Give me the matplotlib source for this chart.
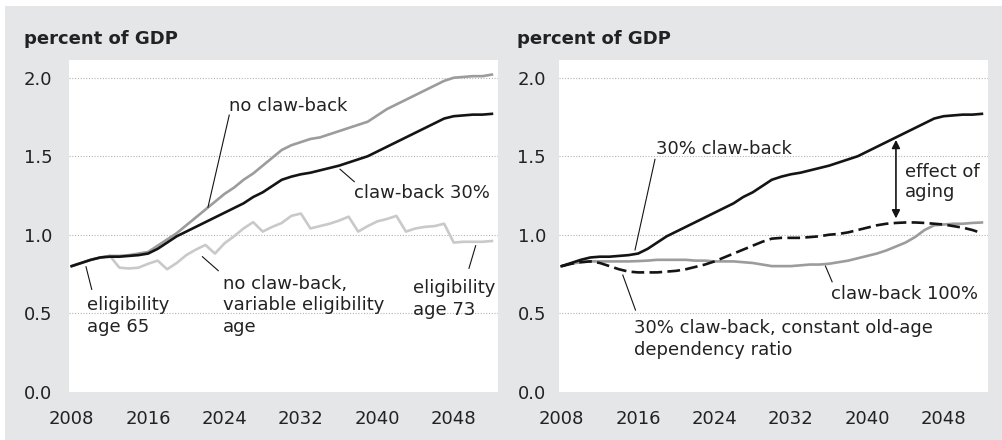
import matplotlib
matplotlib.use("Agg")
import matplotlib.pyplot as plt
from matplotlib.patches import Rectangle

# ---- data (percent of GDP) ----
years = list(range(2008, 2053))

no_clawback = [0.80, 0.82, 0.84, 0.855, 0.865, 0.865, 0.87, 0.88, 0.89, 0.93,
               0.97, 1.01, 1.06, 1.11, 1.16, 1.21, 1.26, 1.30, 1.35, 1.39,
               1.44, 1.49, 1.54, 1.57, 1.59, 1.61, 1.62, 1.64, 1.66, 1.68,
               1.70, 1.72, 1.76, 1.80, 1.83, 1.86, 1.89, 1.92, 1.95, 1.98,
               2.00, 2.005, 2.01, 2.01, 2.02]

clawback_30 = [0.80, 0.82, 0.84, 0.855, 0.86, 0.86, 0.865, 0.87, 0.88, 0.91,
               0.95, 0.99, 1.02, 1.05, 1.08, 1.11, 1.14, 1.17, 1.20, 1.24,
               1.27, 1.31, 1.35, 1.37, 1.385, 1.395, 1.41, 1.425, 1.44, 1.46,
               1.48, 1.50, 1.53, 1.56, 1.59, 1.62, 1.65, 1.68, 1.71, 1.74,
               1.755, 1.76, 1.765, 1.765, 1.77]

variable_age = [0.80, 0.82, 0.84, 0.855, 0.865, 0.79, 0.785, 0.79, 0.815, 0.835,
                0.78, 0.82, 0.87, 0.905, 0.935, 0.88, 0.945, 0.99, 1.04, 1.08,
                1.02, 1.05, 1.075, 1.12, 1.135, 1.04, 1.055, 1.07, 1.09, 1.115,
                1.02, 1.055, 1.085, 1.10, 1.12, 1.02, 1.04, 1.05, 1.055, 1.07,
                0.95, 0.955, 0.955, 0.955, 0.96]

clawback_100 = [0.80, 0.815, 0.825, 0.83, 0.83, 0.83, 0.83, 0.83, 0.832, 0.835,
                0.84, 0.84, 0.84, 0.84, 0.835, 0.835, 0.83, 0.83, 0.83, 0.825,
                0.82, 0.81, 0.80, 0.80, 0.80, 0.805, 0.81, 0.81, 0.815, 0.825,
                0.835, 0.85, 0.865, 0.88, 0.90, 0.925, 0.95, 0.985, 1.03, 1.06,
                1.065, 1.07, 1.07, 1.075, 1.078]

const_dependency = [0.80, 0.815, 0.825, 0.83, 0.82, 0.80, 0.78, 0.765, 0.76, 0.76,
                    0.76, 0.765, 0.77, 0.78, 0.795, 0.81, 0.83, 0.855, 0.88, 0.905,
                    0.93, 0.955, 0.975, 0.98, 0.98, 0.98, 0.985, 0.99, 1.00, 1.005,
                    1.015, 1.03, 1.045, 1.06, 1.07, 1.075, 1.078, 1.078, 1.075, 1.07,
                    1.065, 1.055, 1.045, 1.03, 1.01]

xtick_years = [2008, 2016, 2024, 2032, 2040, 2048]
ytick_values = [0.0, 0.5, 1.0, 1.5, 2.0]
ytick_labels = ["0.0", "0.5", "1.0", "1.5", "2.0"]

# ---- styling ----
BG = "#e5e6e8"
TXT = "#222222"
BLACK = "#141414"
MID = "#9c9c9c"
LIGHT = "#c9c9c9"
FS = 13

plt.rcParams["font.family"] = ["DejaVu Sans"]

W, H = 1003, 440
fig = plt.figure(figsize=(W / 100, H / 100), dpi=100, facecolor="white")
fig.patches.append(Rectangle((5 / W, 0), 1 - 5 / W, 1 - 6 / H,
                             transform=fig.transFigure, facecolor=BG,
                             edgecolor="none", zorder=-10))


def px_axes(left, top, right, bottom):
    return fig.add_axes([left / W, 1 - bottom / H, (right - left) / W, (bottom - top) / H])


ax1 = px_axes(69, 60, 498.3, 391.7)
ax2 = px_axes(559, 60, 988.3, 391.7)

for ax, ypad in ((ax1, 12), (ax2, 9.4)):
    ax.set_facecolor("white")
    for s in ax.spines.values():
        s.set_visible(False)
    ax.set_xlim(2007.72, 2052.67)
    ax.set_ylim(0, 2.113)
    ax.set_xticks(xtick_years)
    ax.set_xticklabels([str(y) for y in xtick_years])
    ax.set_yticks(ytick_values)
    ax.set_yticklabels(ytick_labels)
    ax.tick_params(axis="both", length=0, labelsize=FS, colors=TXT)
    ax.tick_params(axis="x", pad=13.3)
    ax.tick_params(axis="y", pad=ypad)
    for yv in ytick_values[1:]:
        ax.axhline(yv, color="#b4b4b4", lw=0.8, ls=(0, (1, 1.5)), zorder=0)

fig.text(24 / W, 1 - 44 / H, "percent of GDP", fontsize=FS, fontweight="bold",
         color=TXT, va="baseline", ha="left")
fig.text(517.3 / W, 1 - 44 / H, "percent of GDP", fontsize=FS, fontweight="bold",
         color=TXT, va="baseline", ha="left")

LW = 1.9

# ---- left panel ----
ax1.plot(years, variable_age, color=LIGHT, lw=LW, zorder=2)
ax1.plot(years, no_clawback, color=MID, lw=LW, zorder=3)
ax1.plot(years, clawback_30, color=BLACK, lw=LW, zorder=4)


def leader(ax, p0, p1):
    ax.plot([p0[0], p1[0]], [p0[1], p1[1]], color=BLACK, lw=0.8, zorder=5)


def label(ax, x, y, s, ls=1.25):
    # y is the baseline of the last line of the label
    ax.text(x, y, s, fontsize=FS, color=TXT, ha="left", va="baseline",
            linespacing=ls, zorder=6)


label(ax1, 2024.47, 1.788, "no claw-back")
leader(ax1, (2024.5, 1.762), (2022.27, 1.175))

label(ax1, 2037.56, 1.232, "claw-back 30%")
leader(ax1, (2036.1, 1.417), (2037.59, 1.338))

label(ax1, 2009.64, 0.382, "eligibility\nage 65")
leader(ax1, (2009.5, 0.796), (2010.1, 0.652))

label(ax1, 2023.81, 0.382, "no claw-back,\nvariable eligibility\nage")
leader(ax1, (2021.69, 0.860), (2023.35, 0.771))

label(ax1, 2043.77, 0.489, "eligibility\nage 73")
leader(ax1, (2050.3, 0.930), (2049.6, 0.786))

# ---- right panel ----
ax2.plot(years, clawback_100, color=MID, lw=LW, zorder=2)
ax2.plot(years, const_dependency, color=BLACK, lw=LW, dashes=(4.8, 2.0), zorder=3)
ax2.plot(years, clawback_30, color=BLACK, lw=LW, zorder=4)

label(ax2, 2017.88, 1.514, "30% claw-back")
leader(ax2, (2017.77, 1.480), (2015.68, 0.903))

label(ax2, 2043.95, 1.242, "effect of\naging", ls=1.15)
ax2.annotate("", xy=(2043.0, 1.604), xytext=(2043.0, 1.104),
             arrowprops=dict(arrowstyle="<|-|>", color=BLACK, lw=1.2,
                             mutation_scale=12, shrinkA=0, shrinkB=0), zorder=6)

label(ax2, 2036.25, 0.590, "claw-back 100%")
leader(ax2, (2035.62, 0.80), (2036.32, 0.70))

label(ax2, 2015.62, 0.234, "30% claw-back, constant old-age\ndependency ratio")
leader(ax2, (2014.40, 0.743), (2015.73, 0.520))

fig.savefig("out.png", dpi=100, facecolor="white")
